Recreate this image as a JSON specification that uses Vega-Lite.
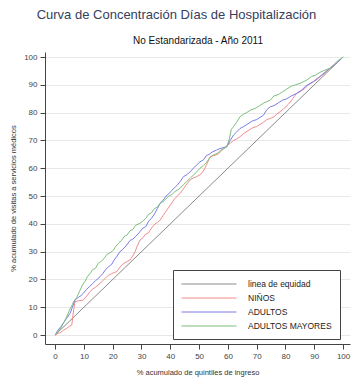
{
  "$schema": "https://vega.github.io/schema/vega-lite/v6.json",
  "width": 305,
  "height": 292,
  "autosize": {"type": "none"},
  "padding": {"left": 45, "top": 52, "right": 2, "bottom": 40},
  "background": "white",
  "title": {
    "text": "Curva de Concentración Días de Hospitalización",
    "font": "Liberation Sans",
    "fontSize": 13,
    "fontWeight": "normal",
    "color": "#34405e",
    "anchor": "middle",
    "dx": -21,
    "offset": 13
  },
  "config": {
    "view": {"stroke": null},
    "axis": {
      "labelFont": "Liberation Sans",
      "titleFont": "Liberation Sans",
      "labelFontSize": 8,
      "titleFontSize": 7.5,
      "titleFontWeight": "normal",
      "labelColor": "#444",
      "titleColor": "#333",
      "tickColor": "#444",
      "domainColor": "#444",
      "tickSize": 5
    },
    "legend": {
      "labelFont": "Liberation Sans"
    }
  },
  "data": {
    "values": [
      {"s": "linea de equidad", "x": 0, "y": 0},
      {"s": "linea de equidad", "x": 100, "y": 100},

      {"s": "NIÑOS", "x": 0, "y": 0},
      {"s": "NIÑOS", "x": 1, "y": 0.6},
      {"s": "NIÑOS", "x": 2, "y": 1},
      {"s": "NIÑOS", "x": 3, "y": 1.8},
      {"s": "NIÑOS", "x": 4, "y": 2.4},
      {"s": "NIÑOS", "x": 5, "y": 3.2},
      {"s": "NIÑOS", "x": 5.8, "y": 3.6},
      {"s": "NIÑOS", "x": 6.3, "y": 8},
      {"s": "NIÑOS", "x": 6.9, "y": 12},
      {"s": "NIÑOS", "x": 8, "y": 12.3},
      {"s": "NIÑOS", "x": 9.8, "y": 12.6},
      {"s": "NIÑOS", "x": 11, "y": 14},
      {"s": "NIÑOS", "x": 12, "y": 15.5},
      {"s": "NIÑOS", "x": 13, "y": 16.5},
      {"s": "NIÑOS", "x": 14, "y": 17.2},
      {"s": "NIÑOS", "x": 15.6, "y": 18.6},
      {"s": "NIÑOS", "x": 16.5, "y": 19.5},
      {"s": "NIÑOS", "x": 17.5, "y": 20.5},
      {"s": "NIÑOS", "x": 18.5, "y": 21.5},
      {"s": "NIÑOS", "x": 19.5, "y": 22},
      {"s": "NIÑOS", "x": 20.5, "y": 22.5},
      {"s": "NIÑOS", "x": 21.4, "y": 22.8},
      {"s": "NIÑOS", "x": 22.6, "y": 24.5},
      {"s": "NIÑOS", "x": 23.5, "y": 25.5},
      {"s": "NIÑOS", "x": 24.9, "y": 26.4},
      {"s": "NIÑOS", "x": 26, "y": 27},
      {"s": "NIÑOS", "x": 27, "y": 28.5},
      {"s": "NIÑOS", "x": 27.8, "y": 30},
      {"s": "NIÑOS", "x": 28.5, "y": 32},
      {"s": "NIÑOS", "x": 29.5, "y": 34.2},
      {"s": "NIÑOS", "x": 30.5, "y": 35},
      {"s": "NIÑOS", "x": 31.3, "y": 36.2},
      {"s": "NIÑOS", "x": 32.5, "y": 36.8},
      {"s": "NIÑOS", "x": 33.5, "y": 38.5},
      {"s": "NIÑOS", "x": 34.7, "y": 40},
      {"s": "NIÑOS", "x": 35.5, "y": 40.5},
      {"s": "NIÑOS", "x": 36.5, "y": 41.4},
      {"s": "NIÑOS", "x": 37.5, "y": 43},
      {"s": "NIÑOS", "x": 38.5, "y": 44.5},
      {"s": "NIÑOS", "x": 39.5, "y": 46},
      {"s": "NIÑOS", "x": 40.5, "y": 47.5},
      {"s": "NIÑOS", "x": 41.5, "y": 49},
      {"s": "NIÑOS", "x": 43.4, "y": 51},
      {"s": "NIÑOS", "x": 44.5, "y": 52.5},
      {"s": "NIÑOS", "x": 45.5, "y": 54},
      {"s": "NIÑOS", "x": 46.9, "y": 55.8},
      {"s": "NIÑOS", "x": 48, "y": 56.5},
      {"s": "NIÑOS", "x": 49.2, "y": 57},
      {"s": "NIÑOS", "x": 50.3, "y": 57.6},
      {"s": "NIÑOS", "x": 51.5, "y": 59},
      {"s": "NIÑOS", "x": 52.5, "y": 61},
      {"s": "NIÑOS", "x": 53.8, "y": 64.1},
      {"s": "NIÑOS", "x": 55, "y": 64.5},
      {"s": "NIÑOS", "x": 56.5, "y": 65},
      {"s": "NIÑOS", "x": 58, "y": 66.5},
      {"s": "NIÑOS", "x": 59.5, "y": 68},
      {"s": "NIÑOS", "x": 60.8, "y": 69},
      {"s": "NIÑOS", "x": 62, "y": 70},
      {"s": "NIÑOS", "x": 63, "y": 70.5},
      {"s": "NIÑOS", "x": 64.2, "y": 71.3},
      {"s": "NIÑOS", "x": 65.5, "y": 72.5},
      {"s": "NIÑOS", "x": 67, "y": 73.5},
      {"s": "NIÑOS", "x": 68.5, "y": 74.5},
      {"s": "NIÑOS", "x": 70, "y": 75},
      {"s": "NIÑOS", "x": 71.5, "y": 76},
      {"s": "NIÑOS", "x": 72.3, "y": 76.5},
      {"s": "NIÑOS", "x": 73.5, "y": 77.5},
      {"s": "NIÑOS", "x": 74.7, "y": 77.9},
      {"s": "NIÑOS", "x": 76, "y": 78.5},
      {"s": "NIÑOS", "x": 77, "y": 79.5},
      {"s": "NIÑOS", "x": 78.1, "y": 80.3},
      {"s": "NIÑOS", "x": 79.5, "y": 81.5},
      {"s": "NIÑOS", "x": 81, "y": 83},
      {"s": "NIÑOS", "x": 82.5, "y": 85},
      {"s": "NIÑOS", "x": 83.9, "y": 87},
      {"s": "NIÑOS", "x": 85, "y": 87.5},
      {"s": "NIÑOS", "x": 86.5, "y": 88.5},
      {"s": "NIÑOS", "x": 88, "y": 90},
      {"s": "NIÑOS", "x": 89.5, "y": 91},
      {"s": "NIÑOS", "x": 90.5, "y": 92},
      {"s": "NIÑOS", "x": 92, "y": 92.9},
      {"s": "NIÑOS", "x": 93.5, "y": 94},
      {"s": "NIÑOS", "x": 95.5, "y": 96},
      {"s": "NIÑOS", "x": 97, "y": 97},
      {"s": "NIÑOS", "x": 98.5, "y": 98.5},
      {"s": "NIÑOS", "x": 100, "y": 100},

      {"s": "ADULTOS", "x": 0, "y": 0},
      {"s": "ADULTOS", "x": 1, "y": 1.8},
      {"s": "ADULTOS", "x": 2, "y": 3},
      {"s": "ADULTOS", "x": 3, "y": 4.5},
      {"s": "ADULTOS", "x": 4, "y": 6},
      {"s": "ADULTOS", "x": 5.2, "y": 7.8},
      {"s": "ADULTOS", "x": 6, "y": 10},
      {"s": "ADULTOS", "x": 6.9, "y": 12.6},
      {"s": "ADULTOS", "x": 8, "y": 13.5},
      {"s": "ADULTOS", "x": 9, "y": 14.2},
      {"s": "ADULTOS", "x": 9.8, "y": 15},
      {"s": "ADULTOS", "x": 11, "y": 16.5},
      {"s": "ADULTOS", "x": 12, "y": 17.5},
      {"s": "ADULTOS", "x": 13, "y": 18.5},
      {"s": "ADULTOS", "x": 14, "y": 19.5},
      {"s": "ADULTOS", "x": 15.6, "y": 21},
      {"s": "ADULTOS", "x": 16.5, "y": 22},
      {"s": "ADULTOS", "x": 17.5, "y": 23.5},
      {"s": "ADULTOS", "x": 18.5, "y": 24.5},
      {"s": "ADULTOS", "x": 19.7, "y": 25.5},
      {"s": "ADULTOS", "x": 20.5, "y": 27},
      {"s": "ADULTOS", "x": 21.4, "y": 28.2},
      {"s": "ADULTOS", "x": 22.5, "y": 30},
      {"s": "ADULTOS", "x": 23.5, "y": 30.8},
      {"s": "ADULTOS", "x": 24.9, "y": 32.4},
      {"s": "ADULTOS", "x": 26, "y": 34},
      {"s": "ADULTOS", "x": 27, "y": 34.5},
      {"s": "ADULTOS", "x": 28, "y": 35.5},
      {"s": "ADULTOS", "x": 29.5, "y": 37.2},
      {"s": "ADULTOS", "x": 30.5, "y": 38.5},
      {"s": "ADULTOS", "x": 31.5, "y": 39},
      {"s": "ADULTOS", "x": 32.5, "y": 41},
      {"s": "ADULTOS", "x": 33.5, "y": 42},
      {"s": "ADULTOS", "x": 34.7, "y": 43.9},
      {"s": "ADULTOS", "x": 35.5, "y": 45.5},
      {"s": "ADULTOS", "x": 36.5, "y": 47.4},
      {"s": "ADULTOS", "x": 37.6, "y": 48.6},
      {"s": "ADULTOS", "x": 38.5, "y": 50},
      {"s": "ADULTOS", "x": 39.5, "y": 50.8},
      {"s": "ADULTOS", "x": 40.5, "y": 52},
      {"s": "ADULTOS", "x": 41.5, "y": 53},
      {"s": "ADULTOS", "x": 42.5, "y": 54},
      {"s": "ADULTOS", "x": 43.4, "y": 55.2},
      {"s": "ADULTOS", "x": 44.6, "y": 57},
      {"s": "ADULTOS", "x": 45.5, "y": 57.5},
      {"s": "ADULTOS", "x": 46.9, "y": 58.7},
      {"s": "ADULTOS", "x": 48, "y": 60},
      {"s": "ADULTOS", "x": 49, "y": 61},
      {"s": "ADULTOS", "x": 50.3, "y": 62.3},
      {"s": "ADULTOS", "x": 51.5, "y": 63},
      {"s": "ADULTOS", "x": 52.5, "y": 64.5},
      {"s": "ADULTOS", "x": 53.5, "y": 65},
      {"s": "ADULTOS", "x": 54.5, "y": 65.8},
      {"s": "ADULTOS", "x": 56, "y": 66.5},
      {"s": "ADULTOS", "x": 57, "y": 67},
      {"s": "ADULTOS", "x": 58, "y": 67.3},
      {"s": "ADULTOS", "x": 59.6, "y": 67.7},
      {"s": "ADULTOS", "x": 60.8, "y": 70},
      {"s": "ADULTOS", "x": 62, "y": 72},
      {"s": "ADULTOS", "x": 63, "y": 73},
      {"s": "ADULTOS", "x": 64.2, "y": 74.3},
      {"s": "ADULTOS", "x": 65.5, "y": 75},
      {"s": "ADULTOS", "x": 67, "y": 76},
      {"s": "ADULTOS", "x": 68.5, "y": 77},
      {"s": "ADULTOS", "x": 70, "y": 77.5},
      {"s": "ADULTOS", "x": 71.5, "y": 78.5},
      {"s": "ADULTOS", "x": 72.3, "y": 79},
      {"s": "ADULTOS", "x": 73.5, "y": 81},
      {"s": "ADULTOS", "x": 74.7, "y": 82.1},
      {"s": "ADULTOS", "x": 76, "y": 82.5},
      {"s": "ADULTOS", "x": 77.5, "y": 83.5},
      {"s": "ADULTOS", "x": 79, "y": 84.5},
      {"s": "ADULTOS", "x": 80.5, "y": 85},
      {"s": "ADULTOS", "x": 82, "y": 86},
      {"s": "ADULTOS", "x": 83.9, "y": 86.9},
      {"s": "ADULTOS", "x": 85.5, "y": 88},
      {"s": "ADULTOS", "x": 87, "y": 89.5},
      {"s": "ADULTOS", "x": 88.5, "y": 90.5},
      {"s": "ADULTOS", "x": 89.7, "y": 91.1},
      {"s": "ADULTOS", "x": 91, "y": 92},
      {"s": "ADULTOS", "x": 92.5, "y": 93.5},
      {"s": "ADULTOS", "x": 94, "y": 94.8},
      {"s": "ADULTOS", "x": 95.5, "y": 96},
      {"s": "ADULTOS", "x": 97, "y": 97.2},
      {"s": "ADULTOS", "x": 98.5, "y": 98.5},
      {"s": "ADULTOS", "x": 100, "y": 100},

      {"s": "ADULTOS MAYORES", "x": 0, "y": 0},
      {"s": "ADULTOS MAYORES", "x": 1, "y": 1.2},
      {"s": "ADULTOS MAYORES", "x": 2, "y": 2.5},
      {"s": "ADULTOS MAYORES", "x": 3, "y": 4.5},
      {"s": "ADULTOS MAYORES", "x": 4, "y": 6.5},
      {"s": "ADULTOS MAYORES", "x": 5, "y": 9},
      {"s": "ADULTOS MAYORES", "x": 6, "y": 11},
      {"s": "ADULTOS MAYORES", "x": 6.4, "y": 12},
      {"s": "ADULTOS MAYORES", "x": 7.5, "y": 13.5},
      {"s": "ADULTOS MAYORES", "x": 8.7, "y": 16.2},
      {"s": "ADULTOS MAYORES", "x": 9.5, "y": 18},
      {"s": "ADULTOS MAYORES", "x": 10.5, "y": 19.5},
      {"s": "ADULTOS MAYORES", "x": 11.2, "y": 21},
      {"s": "ADULTOS MAYORES", "x": 12.2, "y": 22.2},
      {"s": "ADULTOS MAYORES", "x": 13, "y": 23.5},
      {"s": "ADULTOS MAYORES", "x": 14, "y": 24},
      {"s": "ADULTOS MAYORES", "x": 15, "y": 25.8},
      {"s": "ADULTOS MAYORES", "x": 16, "y": 26.5},
      {"s": "ADULTOS MAYORES", "x": 17, "y": 27.5},
      {"s": "ADULTOS MAYORES", "x": 18, "y": 29},
      {"s": "ADULTOS MAYORES", "x": 19, "y": 29.5},
      {"s": "ADULTOS MAYORES", "x": 20.3, "y": 30.6},
      {"s": "ADULTOS MAYORES", "x": 21, "y": 31.8},
      {"s": "ADULTOS MAYORES", "x": 22, "y": 33},
      {"s": "ADULTOS MAYORES", "x": 23.2, "y": 34.2},
      {"s": "ADULTOS MAYORES", "x": 24, "y": 35.5},
      {"s": "ADULTOS MAYORES", "x": 25, "y": 36},
      {"s": "ADULTOS MAYORES", "x": 26, "y": 37.5},
      {"s": "ADULTOS MAYORES", "x": 27, "y": 38},
      {"s": "ADULTOS MAYORES", "x": 28, "y": 39.5},
      {"s": "ADULTOS MAYORES", "x": 29.5, "y": 40.2},
      {"s": "ADULTOS MAYORES", "x": 30.5, "y": 41},
      {"s": "ADULTOS MAYORES", "x": 31.5, "y": 42},
      {"s": "ADULTOS MAYORES", "x": 32.5, "y": 43.5},
      {"s": "ADULTOS MAYORES", "x": 33.5, "y": 44},
      {"s": "ADULTOS MAYORES", "x": 34.5, "y": 45.5},
      {"s": "ADULTOS MAYORES", "x": 35.5, "y": 46},
      {"s": "ADULTOS MAYORES", "x": 36.5, "y": 47.4},
      {"s": "ADULTOS MAYORES", "x": 37.5, "y": 48},
      {"s": "ADULTOS MAYORES", "x": 38.5, "y": 49},
      {"s": "ADULTOS MAYORES", "x": 39.5, "y": 50},
      {"s": "ADULTOS MAYORES", "x": 40.5, "y": 50.5},
      {"s": "ADULTOS MAYORES", "x": 41.5, "y": 51.5},
      {"s": "ADULTOS MAYORES", "x": 43.4, "y": 52.8},
      {"s": "ADULTOS MAYORES", "x": 44.5, "y": 54},
      {"s": "ADULTOS MAYORES", "x": 45.5, "y": 55},
      {"s": "ADULTOS MAYORES", "x": 46.9, "y": 56.4},
      {"s": "ADULTOS MAYORES", "x": 48, "y": 57.5},
      {"s": "ADULTOS MAYORES", "x": 49, "y": 58.5},
      {"s": "ADULTOS MAYORES", "x": 50.3, "y": 60},
      {"s": "ADULTOS MAYORES", "x": 51.5, "y": 61},
      {"s": "ADULTOS MAYORES", "x": 52.5, "y": 62},
      {"s": "ADULTOS MAYORES", "x": 53.5, "y": 63.5},
      {"s": "ADULTOS MAYORES", "x": 54.5, "y": 64.5},
      {"s": "ADULTOS MAYORES", "x": 55.5, "y": 65},
      {"s": "ADULTOS MAYORES", "x": 56.5, "y": 65.5},
      {"s": "ADULTOS MAYORES", "x": 57.5, "y": 66.5},
      {"s": "ADULTOS MAYORES", "x": 58.5, "y": 67},
      {"s": "ADULTOS MAYORES", "x": 59.6, "y": 67.7},
      {"s": "ADULTOS MAYORES", "x": 60.5, "y": 70.5},
      {"s": "ADULTOS MAYORES", "x": 61.2, "y": 74},
      {"s": "ADULTOS MAYORES", "x": 62, "y": 75},
      {"s": "ADULTOS MAYORES", "x": 63, "y": 76.5},
      {"s": "ADULTOS MAYORES", "x": 64.2, "y": 78.5},
      {"s": "ADULTOS MAYORES", "x": 65.5, "y": 79.5},
      {"s": "ADULTOS MAYORES", "x": 66.5, "y": 80},
      {"s": "ADULTOS MAYORES", "x": 68, "y": 81},
      {"s": "ADULTOS MAYORES", "x": 69.5, "y": 81.5},
      {"s": "ADULTOS MAYORES", "x": 71, "y": 82.5},
      {"s": "ADULTOS MAYORES", "x": 72.5, "y": 83.5},
      {"s": "ADULTOS MAYORES", "x": 74.7, "y": 84.5},
      {"s": "ADULTOS MAYORES", "x": 76, "y": 86},
      {"s": "ADULTOS MAYORES", "x": 77.5, "y": 86.5},
      {"s": "ADULTOS MAYORES", "x": 79, "y": 87.5},
      {"s": "ADULTOS MAYORES", "x": 80.5, "y": 88.5},
      {"s": "ADULTOS MAYORES", "x": 82, "y": 89.5},
      {"s": "ADULTOS MAYORES", "x": 83.5, "y": 90},
      {"s": "ADULTOS MAYORES", "x": 85, "y": 90.5},
      {"s": "ADULTOS MAYORES", "x": 87.4, "y": 91.7},
      {"s": "ADULTOS MAYORES", "x": 89, "y": 93},
      {"s": "ADULTOS MAYORES", "x": 90.5, "y": 93.5},
      {"s": "ADULTOS MAYORES", "x": 92, "y": 94.5},
      {"s": "ADULTOS MAYORES", "x": 93.5, "y": 95.2},
      {"s": "ADULTOS MAYORES", "x": 95.5, "y": 96},
      {"s": "ADULTOS MAYORES", "x": 97, "y": 97.5},
      {"s": "ADULTOS MAYORES", "x": 98, "y": 98.5},
      {"s": "ADULTOS MAYORES", "x": 99, "y": 99.2},
      {"s": "ADULTOS MAYORES", "x": 100, "y": 100}
    ]
  },
  "layer": [
    {
      "mark": {"type": "line", "strokeWidth": 1, "clip": false},
      "encoding": {
        "x": {
          "field": "x", "type": "quantitative",
          "scale": {"domain": [-3.5, 102.4], "nice": false, "zero": false},
          "axis": {
            "values": [0, 10, 20, 30, 40, 50, 60, 70, 80, 90, 100],
            "title": "% acumulado de quintiles de ingreso",
            "grid": false,
            "labelPadding": 3,
            "titlePadding": 8
          }
        },
        "y": {
          "field": "y", "type": "quantitative",
          "scale": {"domain": [-3.2, 101.8], "nice": false, "zero": false},
          "axis": {
            "values": [0, 10, 20, 30, 40, 50, 60, 70, 80, 90, 100],
            "title": "% acumulado de visitas a servicios médicos",
            "grid": true,
            "gridColor": "#e8e8e8",
            "labelPadding": 3,
            "titlePadding": 6
          }
        },
        "color": {
          "field": "s", "type": "nominal",
          "scale": {
            "domain": ["linea de equidad", "NIÑOS", "ADULTOS", "ADULTOS MAYORES"],
            "range": ["#8a8a8a", "#f28c8c", "#7b7be6", "#7dbf7d"]
          },
          "legend": {
            "title": null,
            "orient": "none",
            "legendX": 128,
            "legendY": 218,
            "strokeColor": "#444",
            "padding": 8,
            "symbolType": "M-1,0H9",
            "symbolSize": 121,
            "symbolStrokeWidth": 1,
            "labelFontSize": 8.5,
            "labelColor": "#222",
            "labelOffset": 55,
            "rowPadding": 3,
            "fillColor": "white"
          }
        }
      }
    },
    {
      "mark": {"type": "rule", "opacity": 0},
      "encoding": {
        "x": {
          "datum": 50, "type": "quantitative",
          "scale": {"domain": [-3.5, 102.4], "nice": false, "zero": false},
          "axis": {
            "orient": "top",
            "title": "No Estandarizada - Año 2011",
            "titleFont": "Liberation Sans",
            "titleFontSize": 10,
            "titleColor": "#111",
            "labels": false,
            "ticks": false,
            "domain": false,
            "grid": false,
            "titlePadding": 7
          }
        }
      }
    }
  ],
  "resolve": {"scale": {"x": "independent"}, "axis": {"x": "independent"}}
}
